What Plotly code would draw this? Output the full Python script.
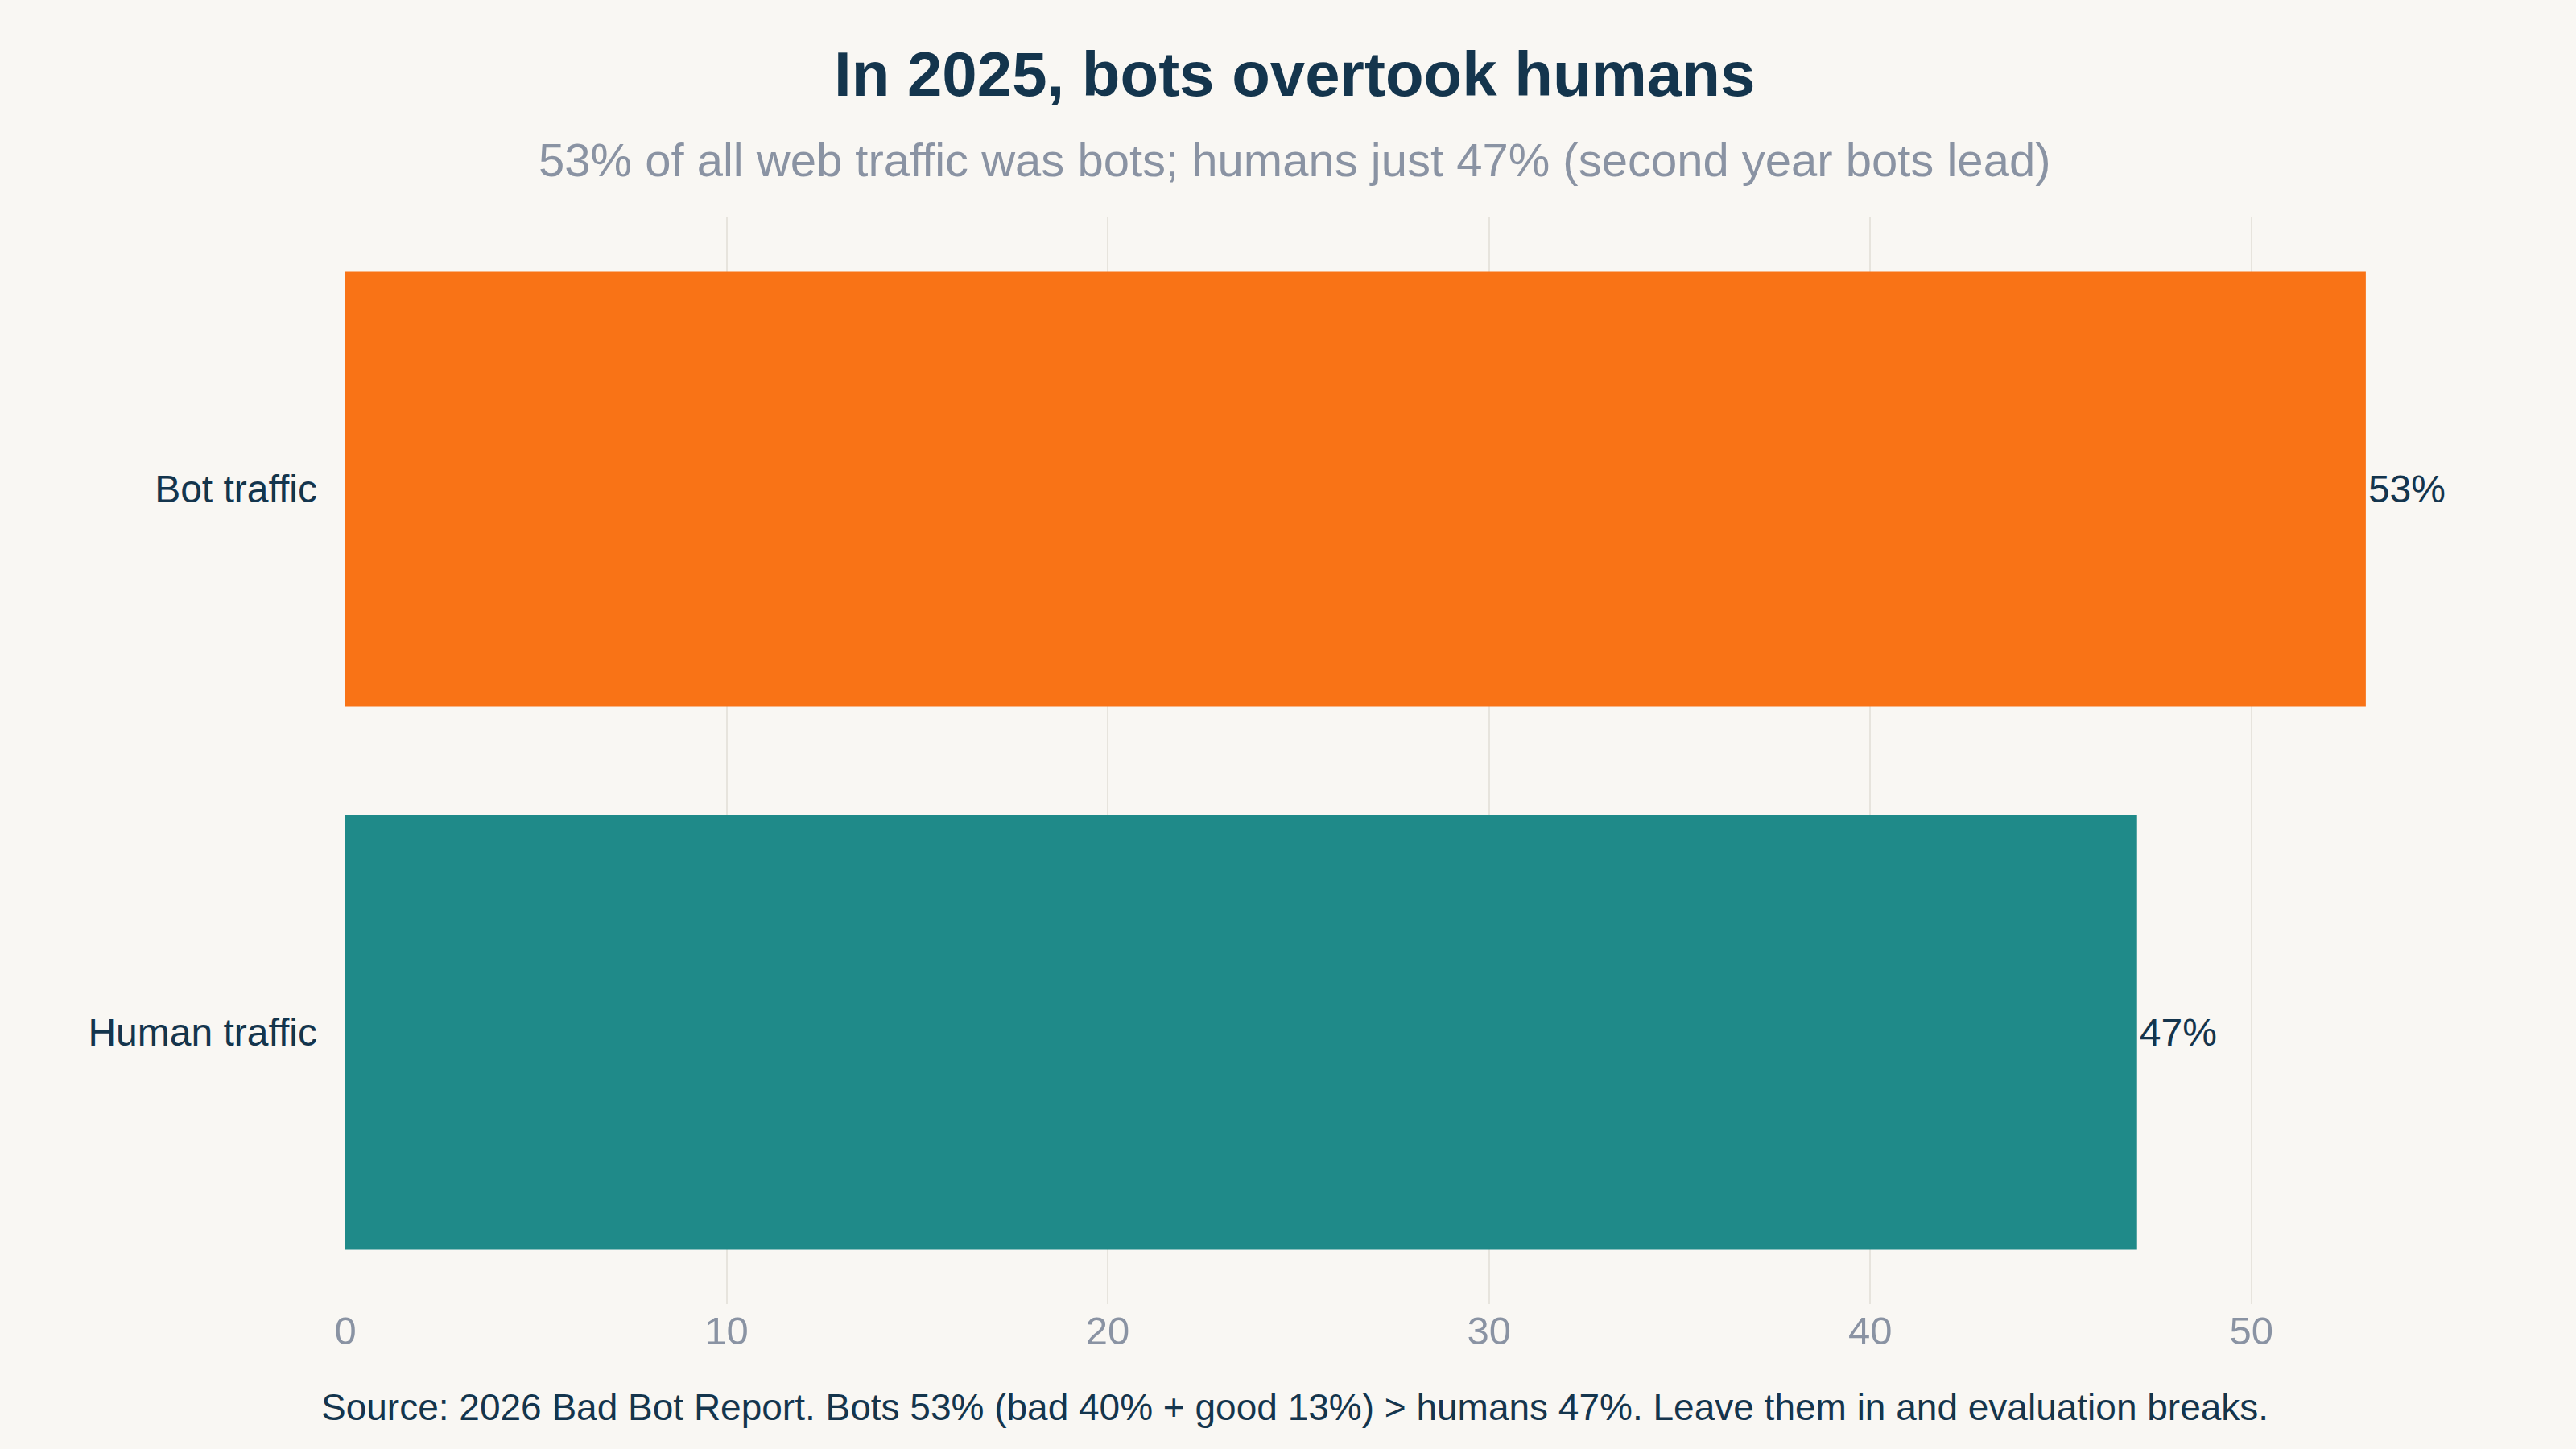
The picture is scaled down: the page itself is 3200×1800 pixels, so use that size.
import plotly.graph_objects as go

categories = ["Bot traffic", "Human traffic"]
values = [53, 47]
bar_labels = ["53%", "47%"]
bar_colors = ["#F97316", "#1F8A89"]
tick_values = [0, 10, 20, 30, 40, 50]

title_text = "In 2025, bots overtook humans"
subtitle_text = "53% of all web traffic was bots; humans just 47% (second year bots lead)"
source_text = ("Source: 2026 Bad Bot Report. Bots 53% (bad 40% + good 13%) &gt; humans 47%. "
               "Leave them in and evaluation breaks.")

NAVY = "#14354D"
GRAY = "#8A93A3"
BG = "#F9F7F3"
FONT = "Liberation Sans, Arial, Helvetica, sans-serif"

fig = go.Figure(
    go.Bar(
        x=values,
        y=categories,
        orientation="h",
        marker=dict(color=bar_colors, line=dict(width=0)),
        text=bar_labels,
        textposition="outside",
        textfont=dict(family=FONT, size=48, color=NAVY),
        cliponaxis=False,
        hoverinfo="skip",
    )
)

L, R, T, B = 429, 129, 270, 180
W, H = 3200, 1800
pw = W - L - R
ph = H - T - B

def px_x(x):
    return (x - L) / pw

def px_y(y):
    return (H - B - y) / ph

fig.update_layout(
    width=W,
    height=H,
    paper_bgcolor=BG,
    plot_bgcolor=BG,
    margin=dict(l=L, r=R, t=T, b=B, pad=0),
    bargap=0.2,
    showlegend=False,
    font=dict(family=FONT, color=NAVY),
    xaxis=dict(
        range=[0, 55.79],
        tickvals=tick_values,
        showgrid=True,
        gridcolor="#E7E4DD",
        gridwidth=2,
        zeroline=False,
        showline=False,
        ticks="",
        tickfont=dict(family=FONT, size=49, color=GRAY),
    ),
    yaxis=dict(
        autorange="reversed",
        showgrid=False,
        zeroline=False,
        showline=False,
        ticks="",
        ticklabelstandoff=34,
        tickfont=dict(family=FONT, size=48, color=NAVY),
    ),
    annotations=[
        dict(text="<b>" + title_text + "</b>", xref="paper", yref="paper",
             x=px_x(1608), y=px_y(92), xanchor="center", yanchor="middle",
             showarrow=False, font=dict(family=FONT, size=78, color=NAVY)),
        dict(text=subtitle_text, xref="paper", yref="paper",
             x=px_x(1608), y=px_y(198), xanchor="center", yanchor="middle",
             showarrow=False, font=dict(family=FONT, size=58, color=GRAY)),
        dict(text=source_text, xref="paper", yref="paper",
             x=px_x(1608), y=px_y(1748), xanchor="center", yanchor="middle",
             showarrow=False, font=dict(family=FONT, size=46, color=NAVY)),
    ],
)

fig.write_html("out.html")
